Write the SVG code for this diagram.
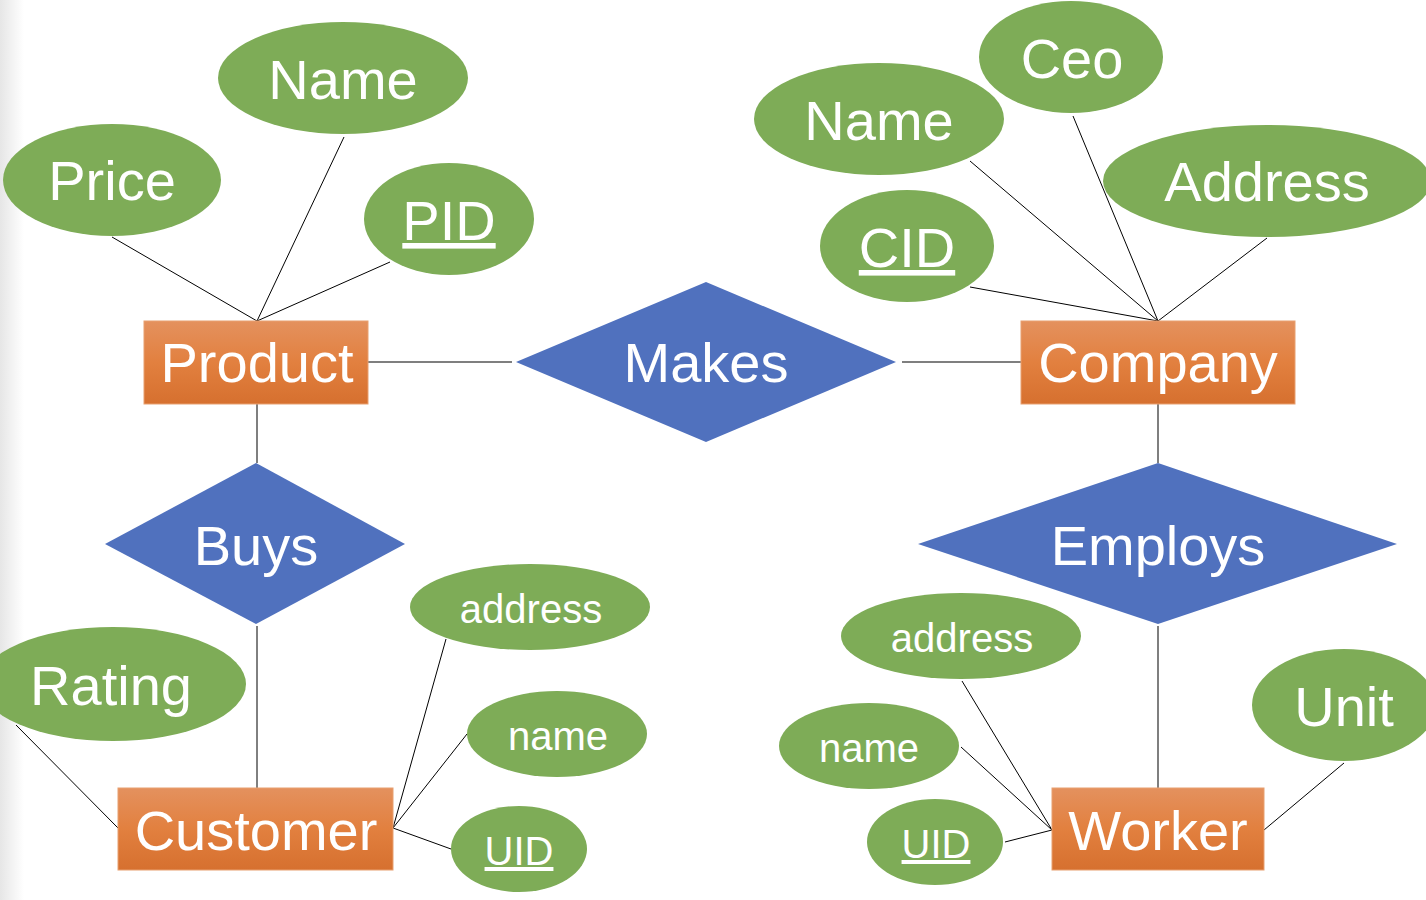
<svg xmlns="http://www.w3.org/2000/svg" width="1426" height="900" viewBox="0 0 1426 900">
<defs>
<linearGradient id="og" x1="0" y1="0" x2="0" y2="1">
<stop offset="0" stop-color="#E4915E"/>
<stop offset="0.5" stop-color="#E2803F"/>
<stop offset="1" stop-color="#D6702F"/>
</linearGradient>
<linearGradient id="edge" x1="0" y1="0" x2="1" y2="0">
<stop offset="0" stop-color="#e6e6e6"/>
<stop offset="1" stop-color="#ffffff"/>
</linearGradient>
<style>
.ent{fill:url(#og);stroke:#E8A070;stroke-width:1}
.rel{fill:#5071BE}
.att{fill:#7EAC57}
.t{font-family:"Liberation Sans",Arial,sans-serif;fill:#fff;text-anchor:middle}
.L{font-size:56px}
.S{font-size:40px}
.u{text-decoration:underline}
.ln{stroke:#000;stroke-width:1;fill:none}
.rl{stroke:#555;stroke-width:1.5;fill:none}
</style>
</defs>
<rect x="0" y="0" width="1426" height="900" fill="#fff"/>
<rect x="0" y="0" width="24" height="900" fill="url(#edge)"/>

<g id="connectors">
<line class="ln" x1="112" y1="237" x2="257" y2="321"/>
<line class="ln" x1="344" y1="137" x2="257" y2="321"/>
<line class="ln" x1="390" y1="262" x2="257" y2="321"/>
<line class="rl" x1="368" y1="362" x2="512" y2="362"/>
<line class="rl" x1="902" y1="362" x2="1021" y2="362"/>
<line class="ln" x1="970" y1="287" x2="1158" y2="321"/>
<line class="ln" x1="970" y1="161" x2="1158" y2="321"/>
<line class="ln" x1="1073" y1="116" x2="1158" y2="321"/>
<line class="ln" x1="1267" y1="238" x2="1158" y2="321"/>
<line class="rl" x1="1158" y1="404" x2="1158" y2="463"/>
<line class="rl" x1="1158" y1="626" x2="1158" y2="788"/>
<line class="ln" x1="962" y1="681" x2="1052" y2="830"/>
<line class="ln" x1="961" y1="747" x2="1052" y2="830"/>
<line class="ln" x1="1005" y1="842" x2="1052" y2="830"/>
<line class="ln" x1="1344" y1="763" x2="1264" y2="830"/>
<line class="rl" x1="257" y1="404" x2="257" y2="463"/>
<line class="ln" x1="257" y1="626" x2="257" y2="788"/>
<line class="ln" x1="16" y1="725" x2="118" y2="828"/>
<line class="ln" x1="446" y1="639" x2="393" y2="828"/>
<line class="ln" x1="467" y1="734" x2="393" y2="828"/>
<line class="ln" x1="451" y1="849" x2="393" y2="828"/>
</g>

<g id="product"><rect class="ent" x="144" y="321" width="224" height="83"/><text class="t L" x="257" y="382">Product</text></g>
<g id="company"><rect class="ent" x="1021" y="321" width="274" height="83"/><text class="t L" x="1158" y="382">Company</text></g>
<g id="customer"><rect class="ent" x="118" y="788" width="275" height="82"/><text class="t L" x="256" y="850">Customer</text></g>
<g id="worker"><rect class="ent" x="1052" y="788" width="212" height="82"/><text class="t L" x="1158" y="850">Worker</text></g>

<g id="makes"><polygon class="rel" points="706,282 896,362 706,442 516,362"/><text class="t L" x="706" y="382">Makes</text></g>
<g id="buys"><polygon class="rel" points="256,463 405,544 256,624 105,544"/><text class="t L" x="256" y="565">Buys</text></g>
<g id="employs"><polygon class="rel" points="1158,463 1397,544 1158,624 918,544"/><text class="t L" x="1158" y="565">Employs</text></g>

<g id="price"><ellipse class="att" cx="112" cy="180" rx="109" ry="56"/><text class="t L" x="112" y="200">Price</text></g>
<g id="pname"><ellipse class="att" cx="343" cy="78" rx="125" ry="56"/><text class="t L" x="343" y="99">Name</text></g>
<g id="pid"><ellipse class="att" cx="449" cy="219" rx="85" ry="56"/><text class="t L u" x="449" y="240">PID</text></g>
<g id="cname"><ellipse class="att" cx="879" cy="119" rx="125" ry="56"/><text class="t L" x="879" y="140">Name</text></g>
<g id="ceo"><ellipse class="att" cx="1071" cy="57" rx="92" ry="56"/><text class="t L" x="1072" y="78">Ceo</text></g>
<g id="caddress"><ellipse class="att" cx="1267" cy="181" rx="164" ry="56"/><text class="t L" x="1267" y="201">Address</text></g>
<g id="cid"><ellipse class="att" cx="907" cy="246" rx="87" ry="56"/><text class="t L u" x="907" y="267">CID</text></g>
<g id="rating"><ellipse class="att" cx="113" cy="684" rx="133" ry="57"/><text class="t L" x="111" y="705">Rating</text></g>
<g id="uaddress"><ellipse class="att" cx="530" cy="607" rx="120" ry="43"/><text class="t S" x="531" y="623">address</text></g>
<g id="uname"><ellipse class="att" cx="557" cy="734" rx="90" ry="43"/><text class="t S" x="558" y="750">name</text></g>
<g id="uuid"><ellipse class="att" cx="519" cy="849" rx="68" ry="43"/><text class="t S u" x="519" y="865">UID</text></g>
<g id="waddress"><ellipse class="att" cx="961" cy="636" rx="120" ry="43"/><text class="t S" x="962" y="652">address</text></g>
<g id="wname"><ellipse class="att" cx="869" cy="746" rx="90" ry="43"/><text class="t S" x="869" y="762">name</text></g>
<g id="wuid"><ellipse class="att" cx="935" cy="842" rx="68" ry="43"/><text class="t S u" x="936" y="858">UID</text></g>
<g id="unit"><ellipse class="att" cx="1344" cy="705" rx="92" ry="56"/><text class="t L" x="1344" y="726">Unit</text></g>
</svg>
